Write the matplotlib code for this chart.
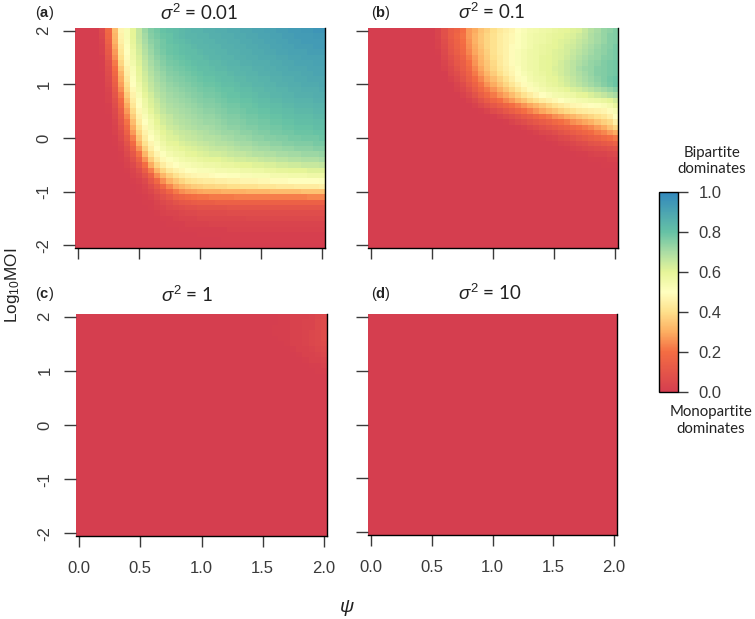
import numpy as np
import matplotlib
matplotlib.use("Agg")
import matplotlib.pyplot as plt
from matplotlib.colors import LinearSegmentedColormap, Normalize
from matplotlib.cm import ScalarMappable

# values in percent, first row is Log10MOI=2, last is -2
# columns are psi=0,0.05,...,2
panel_a = [
[0,0,0,0,5,18,33,47,53,60,66,72,76,78,80,81,82,83,84,85,85,86,86,87,87,88,88,89,89,90,90,91,91,92,92,93,93,94,94,95,95],
[0,0,0,0,4,17,32,46,53,60,66,71,75,77,79,80,82,83,84,84,85,85,86,86,87,87,88,88,89,89,90,90,91,91,92,92,93,93,93,94,94],
[0,0,0,0,3,15,31,45,52,59,65,70,74,76,78,80,81,82,83,84,84,85,85,86,86,87,87,88,88,89,89,90,90,91,91,92,92,93,93,93,93],
[0,0,0,0,2,13,29,43,51,58,64,69,73,76,78,79,80,81,82,83,84,84,85,85,86,86,87,87,88,88,89,89,90,90,91,91,92,92,92,93,93],
[0,0,0,0,2,12,27,42,50,57,63,68,72,75,77,79,80,81,82,82,83,84,84,85,85,86,86,87,87,88,88,89,89,90,90,91,91,91,92,92,92],
[0,0,0,0,1,10,25,40,49,56,62,67,71,74,76,78,79,80,81,82,82,83,84,84,85,85,86,86,87,87,88,88,88,89,89,90,90,91,91,91,91],
[0,0,0,0,1,8,22,38,48,55,61,66,70,73,75,77,78,79,80,81,82,82,83,83,84,85,85,86,86,87,87,87,88,88,89,89,90,90,90,91,91],
[0,0,0,0,1,7,20,35,46,53,60,65,69,72,74,76,77,78,79,80,81,81,82,83,83,84,84,85,85,86,86,87,87,88,88,89,89,89,90,90,90],
[0,0,0,0,0,6,18,32,45,52,59,64,68,71,73,75,76,77,78,79,80,81,81,82,82,83,84,84,85,85,86,86,87,87,88,88,88,89,89,90,90],
[0,0,0,0,0,5,16,30,43,51,58,63,67,70,72,74,75,76,77,78,79,80,80,81,82,82,83,83,84,84,85,85,86,86,87,87,88,88,89,89,89],
[0,0,0,0,0,4,14,28,41,50,56,62,66,69,71,73,74,75,76,77,78,79,79,80,81,81,82,83,83,84,84,85,85,86,86,87,87,88,88,88,89],
[0,0,0,0,0,3,12,25,39,48,55,61,65,68,70,72,73,74,75,76,77,78,78,79,80,80,81,82,82,83,83,84,84,85,85,86,86,87,87,87,88],
[0,0,0,0,0,2,10,22,36,46,53,59,63,67,69,71,72,73,74,75,76,77,77,78,79,80,80,81,81,82,83,83,84,84,85,85,86,86,86,87,87],
[0,0,0,0,0,2,8,19,33,44,51,57,62,65,68,70,71,72,73,74,75,76,76,77,78,79,79,80,80,81,82,82,83,83,84,84,85,85,85,86,86],
[0,0,0,0,0,1,7,17,30,42,50,56,61,64,67,69,70,71,72,73,74,75,75,76,77,78,78,79,79,80,81,81,82,82,83,83,84,84,84,85,85],
[0,0,0,0,0,1,5,14,27,39,48,54,59,63,66,68,69,70,71,72,73,74,74,75,76,77,77,78,79,79,80,80,81,81,82,82,83,83,83,84,84],
[0,0,0,0,0,0,4,12,24,36,46,52,57,61,64,66,68,69,70,71,72,73,73,74,75,76,76,77,78,78,79,79,80,80,81,81,82,82,82,83,83],
[0,0,0,0,0,0,3,10,21,33,44,50,55,60,63,65,67,68,69,70,71,72,72,73,74,75,75,76,77,77,78,78,79,79,80,80,81,81,81,82,82],
[0,0,0,0,0,0,2,8,18,30,41,48,54,58,61,64,65,67,68,69,70,70,71,72,73,74,74,75,76,76,77,77,78,78,79,79,80,80,80,81,81],
[0,0,0,0,0,0,2,6,15,27,38,46,52,56,60,62,64,65,66,67,68,69,70,71,72,72,73,74,74,75,76,76,77,77,78,78,79,79,79,80,80],
[0,0,0,0,0,0,1,5,12,23,35,44,50,54,58,61,62,64,65,66,67,68,68,69,70,71,72,72,73,74,74,75,75,76,76,77,77,78,78,78,79],
[0,0,0,0,0,0,1,3,9,19,31,41,47,52,56,59,60,62,63,64,65,66,67,68,68,69,70,71,71,72,73,73,74,74,75,75,76,76,76,77,77],
[0,0,0,0,0,0,0,2,7,15,26,37,45,50,54,57,58,60,61,62,63,64,65,66,66,67,68,69,69,70,71,71,72,72,73,73,74,74,74,75,75],
[0,0,0,0,0,0,0,1,5,11,21,32,41,47,51,54,56,57,59,60,61,62,63,63,64,65,66,66,67,68,68,69,69,70,70,71,71,72,72,72,73],
[0,0,0,0,0,0,0,1,3,8,16,26,36,43,48,51,53,55,56,57,58,59,60,60,61,62,63,63,64,64,65,66,66,67,67,68,68,69,69,69,70],
[0,0,0,0,0,0,0,0,2,5,11,20,30,38,44,48,50,52,53,54,55,56,56,57,58,58,59,60,60,61,61,62,62,63,63,64,64,65,65,65,66],
[0,0,0,0,0,0,0,0,1,3,7,14,23,32,38,43,46,48,50,51,52,52,53,54,54,55,55,56,56,57,57,58,58,59,59,60,60,60,61,61,61],
[0,0,0,0,0,0,0,0,0,2,4,9,16,25,32,37,41,44,46,47,48,48,49,50,50,51,51,52,52,53,53,53,54,54,54,55,55,55,56,56,56],
[0,0,0,0,0,0,0,0,0,1,2,5,11,18,25,31,35,38,41,42,43,44,44,45,45,46,46,47,47,47,48,48,49,49,49,50,50,50,50,50,51],
[0]*10+[1,3,7,12,18,24,29,32,34,36,37,38,38,39,39,40,40,41,41,41,42,42,42,43,43,43,44,44,44,44,45],
[0]*10+[1,2,4,8,12,17,22,25,27,28,29,30,30,30,31,31,31,31,32,32,32,32,33,33,33,33,33,34,34,34,34],
[0]*11+[1,2,5,8,11,15,17,19,20,21,21,22,22,22,22,23,23,23,23,23,23,23,23,23,23,23,23,24,24,24],
[0]*11+[1,1,3,5,7,9,11,12,13,14,14,14,15,15,15,15,15,15,15,15,15,15,15,15,15,15,15,15,15,15],
[0]*12+[1,2,3,5,6,7,8,8,9,9,9,9,9,10,10,10,10,10,10,10,10,10,10,10,10,10,10,10,10],
[0]*13+[1,2,3,3,4,5,5,6,6,6,6,6,7,7,7,7,7,7,7,7,7,7,7,7,7,7,7,7],
[0]*14+[1,1,2,3,3,3,4,4,4,4,4,4,4,4,5,5,5,5,5,5,5,5,5,5,5,5,5],
[0]*15+[1,1,1,2,2,2,2,3,3,3]+[3]*16,
[0]*17+[1]*8+[2]*16,
[0]*20+[1]*21,
[0]*24+[1]*17,
[0]*41,
]

panel_b = [
[0]*11+[3,8,13,16,20,27,30,34,37,40,43,45,47,50,52,54,55,56,57,58,59,60,61,62,65,68,70,73,74,76],
[0]*11+[3,8,13,17,21,27,31,35,38,41,44,46,48,51,53,55,56,57,58,59,60,61,62,64,66,69,71,73,75,76],
[0]*11+[2,7,12,16,20,26,31,35,38,41,44,46,48,51,53,55,56,57,58,60,61,62,63,65,67,69,71,73,75,76],
[0]*11+[2,6,11,15,19,25,30,34,38,41,44,46,49,51,53,55,57,58,59,60,61,63,64,66,68,70,72,74,75,77],
[0]*11+[1,5,10,14,18,24,29,33,37,41,44,46,49,52,54,56,57,58,59,61,62,63,65,67,69,71,73,74,76,77],
[0]*12+[4,8,12,16,22,27,32,36,40,43,46,49,52,54,56,57,59,60,61,62,64,66,68,70,72,73,75,76,77],
[0]*12+[3,7,11,14,20,26,31,35,39,43,46,49,52,54,56,57,59,60,61,63,65,67,69,71,73,74,76,77,78],
[0]*12+[2,5,9,13,18,24,29,34,38,42,45,48,51,54,56,57,59,60,62,63,65,67,70,72,73,75,76,77,78],
[0]*13+[4,7,11,16,22,27,32,36,40,44,47,50,53,55,57,58,60,61,63,65,67,69,71,73,75,76,77,78],
[0]*13+[2,5,9,14,19,24,29,33,37,41,45,49,51,54,56,57,59,60,62,64,66,68,70,72,74,76,78,79],
[0]*14+[3,6,11,16,21,26,30,34,38,42,46,49,52,54,56,58,59,61,63,65,67,69,71,73,75,77,79],
[0]*14+[2,4,8,13,18,22,26,30,34,38,42,46,49,52,54,56,57,58,60,62,63,65,67,69,71,73,75],
[0]*15+[2,5,9,14,18,22,26,29,33,37,41,44,47,50,52,54,55,56,57,59,60,62,64,66,68,70],
[0]*16+[2,5,9,13,17,20,24,27,31,34,38,41,44,46,48,50,52,53,54,55,56,57,58,60,63],
[0]*17+[2,5,8,11,14,17,20,23,26,29,32,35,38,41,43,45,47,48,49,50,51,52,54,58],
[0]*18+[1,3,6,8,11,14,17,20,23,26,29,32,34,37,39,41,43,44,45,46,47,49,53],
[0]*20+[1,3,5,7,9,12,14,17,20,22,25,27,30,32,34,36,38,40,42,45,50],
[0]*22+[1,3,5,7,9,11,13,15,18,20,22,25,27,29,31,34,37,39,45],
[0]*24+[1,2,4,6,8,10,12,14,16,18,20,22,24,27,30,34,38],
[0]*26+[1,2,4,5,7,9,11,13,15,17,19,22,24,27,30],
[0]*28+[1,2,3,5,6,8,10,12,14,16,18,20,22],
[0]*30+[1,2,3,4,6,7,9,10,12,13,15],
[0]*32+[1,2,3,4,5,6,7,8,9],
[0]*34+[1,1,2,3,3,4,5],
[0]*36+[1,1,1,2,2],
[0]*38+[1,1,1],
] + [[0]*41]*15

panel_c = [
[0]*33+[1,1,2,2,2,3,4,5],
[0]*33+[1,1,2,2,3,3,5,6],
[0]*32+[1,1,1,2,2,3,3,5,6],
[0]*32+[1,1,1,2,2,3,4,5,7],
[0]*33+[1,1,2,2,3,4,5,7],
[0]*34+[1,2,2,3,4,5,6],
[0]*35+[1,2,2,3,4,5],
[0]*36+[1,2,2,3,4],
[0]*37+[1,2,2,3],
[0]*38+[1,1,2],
[0]*39+[1,1],
] + [[0]*41]*30

panel_d = [[0]*41]*41

titles = ["0.01", "0.1", "1", "10"]
letters = ["a", "b", "c", "d"]
xticks = [0.0, 0.5, 1.0, 1.5, 2.0]
yticks = [-2, -1, 0, 1, 2]
cbar_ticks = [0.0, 0.2, 0.4, 0.6, 0.8, 1.0]
ramp_at = [0.0, 0.2, 0.3, 0.4, 0.5, 0.6, 0.7, 0.8, 1.0]
ramp_col = ["#d53e4f", "#f46d43", "#fdae61", "#fee08b", "#ffffbf",
            "#e6f598", "#abdda4", "#66c2a5", "#3288bd"]

W, H = 755, 619
cmap = LinearSegmentedColormap.from_list("spec", list(zip(ramp_at, ramp_col)))
norm = Normalize(0, 1)
SANS = "Liberation Sans"
CAL = "Lato"
GREY = "#3a3a3a"
INK = "#222222"

plt.rcParams["font.family"] = SANS
plt.rcParams["mathtext.fontset"] = "custom"
plt.rcParams["mathtext.rm"] = SANS
plt.rcParams["mathtext.it"] = SANS + ":italic"
plt.rcParams["mathtext.bf"] = SANS + ":bold"
fig = plt.figure(figsize=(W / 100, H / 100), dpi=100)


def px_axes(x0, y0, x1, y1):
    return fig.add_axes([x0 / W, 1 - y1 / H, (x1 - x0) / W, (y1 - y0) / H])


def ftext(x, y, s, **kw):
    return fig.text(x / W, 1 - y / H, s, **kw)


boxes = [(75, 28, 325, 248), (368, 28, 618, 248),
         (76, 314, 327, 536), (368, 314, 617, 535)]
title_pos = [(199, 13), (492, 12), (187, 295), (490, 293)]
label_pos = [(35, 13), (371, 13), (35, 294), (371, 294)]
panels = [panel_a, panel_b, panel_c, panel_d]

for i in range(4):
    ax = px_axes(*boxes[i])
    z = np.array(panels[i]) / 100.0
    ax.imshow(z, cmap=cmap, norm=norm, aspect="auto", interpolation="nearest",
              extent=[-0.025, 2.025, -2.05, 2.05])
    ax.spines["top"].set_visible(False)
    ax.spines["left"].set_visible(False)
    ax.spines["right"].set_linewidth(1.0)
    ax.spines["bottom"].set_linewidth(1.0)
    ax.set_xticks(xticks)
    ax.set_yticks(yticks)
    ax.tick_params(axis="x", length=8, width=1, color=GREY, labelcolor=GREY,
                   labelsize=12, pad=10)
    ax.tick_params(axis="y", length=8.5, width=1, color=GREY, labelcolor=GREY,
                   labelsize=12, pad=8.5)
    if i >= 2:
        ax.set_xticklabels(["%.1f" % v for v in xticks])
    else:
        ax.set_xticklabels([])
    if i % 2 == 0:
        ax.set_yticklabels([str(v) for v in yticks], rotation=90, va="center")
    else:
        ax.set_yticklabels([])
    ftext(title_pos[i][0], title_pos[i][1], r"$\mathit{\sigma}^2$ = " + titles[i],
          family=CAL, fontsize=13.5, ha="center", va="center", color=INK)
    ftext(label_pos[i][0], label_pos[i][1], "(" + r"$\mathbf{" + letters[i] + "}$" + ")",
          fontsize=10.5, ha="left", va="center", color=INK)

# colour bar
cax = px_axes(659, 192, 678, 392)
cb = fig.colorbar(ScalarMappable(norm=norm, cmap=cmap), cax=cax)
cb.set_ticks(cbar_ticks)
cb.set_ticklabels(["%.1f" % v for v in cbar_ticks])
cb.ax.tick_params(length=7.5, width=1, color=GREY, labelcolor=GREY, labelsize=12, pad=7.5)
cb.outline.set_linewidth(1.0)

ftext(712, 161, "Bipartite\ndominates", family=CAL, fontsize=10.8, ha="center",
      va="center", color=INK, linespacing=1.2)
ftext(711, 420.5, "Monopartite\ndominates", family=CAL, fontsize=10.8, ha="center",
      va="center", color=INK, linespacing=1.2)

ftext(13, 285, r"Log$_{10}$MOI", fontsize=12.3, rotation=90, ha="center", va="center",
      color=INK)
ftext(347, 608, r"$\psi$", fontsize=14, ha="center", va="center", color=INK)

fig.savefig("out.png", dpi=100)
